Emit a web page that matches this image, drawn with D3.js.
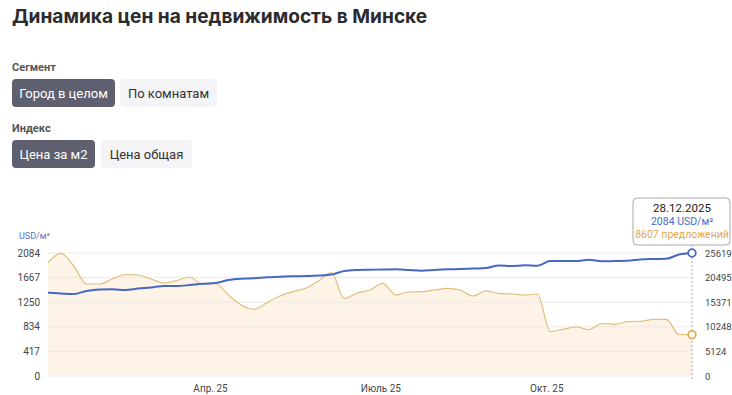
<!DOCTYPE html>
<html>
<head>
<meta charset="utf-8">
<script src="https://cdn.jsdelivr.net/npm/d3@7"></script>
<style>
  body { margin: 0; background: #fff; }
  svg { display: block; font-family: Roboto, "Noto Sans", sans-serif; }
</style>
</head>
<body>
<script>
// weekly dates: first and last sunday of the series
var firstWeek = "2025-01-12";
var lastWeek = "2025-12-28";

// USD per m2, left axis
var priceM2 = [1411, 1398, 1389, 1440, 1465, 1469, 1457, 1482, 1499, 1525,
  1525, 1541, 1562, 1575, 1626, 1648, 1655, 1672, 1680, 1689,
  1694, 1702, 1719, 1779, 1796, 1801, 1804, 1807, 1796, 1784,
  1796, 1807, 1813, 1821, 1829, 1872, 1863, 1875, 1868, 1948,
  1948, 1948, 1968, 1943, 1948, 1953, 1974, 1982, 1987, 2058, 2084];

// number of offers, right axis
var offers = [23600, 25560, 22910, 19160, 19160, 20200, 21140, 21040, 20200, 19370,
  19890, 20620, 19100, 19270, 16870, 14790, 13890, 15270, 16660, 17560,
  18270, 19790, 21560, 16140, 17290, 17910, 19310, 16870, 17500, 17560,
  17910, 18270, 17910, 16660, 17710, 17190, 17080, 16870, 17080, 9230,
  9730, 10210, 9690, 10940, 10770, 11310, 11390, 11810, 11810, 8640, 8607];

var leftTicks = [0, 417, 834, 1250, 1667, 2084];
var rightTicks = [0, 5124, 10248, 15371, 20495, 25619];
var monthTicks = ["2025-04-01", "2025-07-01", "2025-10-01"];
var monthLabels = ["Апр. 25", "Июль 25", "Окт. 25"];

var width = 732, height = 395;
var parse = d3.timeParse("%Y-%m-%d");
var dates = d3.timeSunday.range(parse(firstWeek), d3.timeDay.offset(parse(lastWeek), 1));

var svg = d3.select("body").append("svg")
    .attr("width", width)
    .attr("height", height);

// header
svg.append("text")
    .attr("x", 12).attr("y", 23)
    .attr("fill", "#2b2b2e")
    .style("font-family", "Inter, 'Open Sans', sans-serif")
    .style("font-size", "19.1px")
    .style("font-weight", 700)
    .text("Динамика цен на недвижимость в Минске");

function groupLabel(txt, y) {
  svg.append("text")
      .attr("x", 12).attr("y", y)
      .attr("fill", "#555")
      .style("font-size", "11px")
      .style("font-weight", 700)
      .text(txt);
}

function button(txt, x, y, w, active) {
  var g = svg.append("g").attr("transform", "translate(" + x + "," + y + ")");
  g.append("rect")
      .attr("width", w).attr("height", 28)
      .attr("rx", 4)
      .attr("fill", active ? "#5e606f" : "#f4f4f7");
  g.append("text")
      .attr("x", w / 2).attr("y", 18.5)
      .attr("text-anchor", "middle")
      .attr("fill", active ? "#fff" : "#333")
      .style("font-size", "13px")
      .text(txt);
}

groupLabel("Сегмент", 71);
button("Город в целом", 12, 79, 103, true);
button("По комнатам", 120, 79, 97, false);
groupLabel("Индекс", 132);
button("Цена за м2", 12, 140, 83, true);
button("Цена общая", 101, 140, 91, false);

// chart
var x = d3.scaleTime()
    .domain([dates[0], dates[dates.length - 1]])
    .range([48, 692]);
var yL = d3.scaleLinear().domain([0, 2084]).range([376, 253]);
var yR = d3.scaleLinear().domain([0, 25619]).range([376, 253]);

var area = d3.area()
    .x(function(d, i) { return x(dates[i]); })
    .y0(yR(0))
    .y1(function(d) { return yR(d); })
    .curve(d3.curveMonotoneX);

svg.append("path")
    .datum(offers)
    .attr("d", area)
    .attr("fill", "#fdf3e6");

// grid
svg.append("g").selectAll("line")
    .data(leftTicks)
    .enter().append("line")
      .attr("x1", 48).attr("x2", 692)
      .attr("y1", function(d) { return yL(d); })
      .attr("y2", function(d) { return yL(d); })
      .attr("stroke", "#efe9e4")
      .attr("stroke-width", 1);

var lineOffers = d3.line()
    .x(function(d, i) { return x(dates[i]); })
    .y(function(d) { return yR(d); })
    .curve(d3.curveMonotoneX);

svg.append("path")
    .datum(offers)
    .attr("d", lineOffers)
    .attr("fill", "none")
    .attr("stroke", "#e2bc7c")
    .attr("stroke-width", 1.2);

var linePrice = d3.line()
    .x(function(d, i) { return x(dates[i]); })
    .y(function(d) { return yL(d); })
    .curve(d3.curveMonotoneX);

svg.append("path")
    .datum(priceM2)
    .attr("d", linePrice)
    .attr("fill", "none")
    .attr("stroke", "#4668c4")
    .attr("stroke-width", 2);

// left axis
svg.append("text")
    .attr("x", 19).attr("y", 239)
    .attr("fill", "#5a72c8")
    .style("font-size", "9px")
    .text("USD/м²");

svg.append("g").selectAll("text")
    .data(leftTicks)
    .enter().append("text")
      .attr("x", 40)
      .attr("y", function(d) { return yL(d) + 3.5; })
      .attr("text-anchor", "end")
      .attr("fill", "#444")
      .style("font-size", "10px")
      .text(function(d) { return d; });

svg.append("g").selectAll("text")
    .data(rightTicks)
    .enter().append("text")
      .attr("x", 705)
      .attr("y", function(d) { return yR(d) + 3.5; })
      .attr("fill", "#444")
      .style("font-size", "9.5px")
      .text(function(d) { return d; });

svg.append("g").selectAll("text")
    .data(monthTicks)
    .enter().append("text")
      .attr("x", function(d) { return x(parse(d)); })
      .attr("y", 392)
      .attr("fill", "#444")
      .style("font-size", "10px")
      .text(function(d, i) { return monthLabels[i]; });

// hover state on the last week
var last = dates.length - 1;
var hx = x(dates[last]);

svg.append("line")
    .attr("x1", hx).attr("x2", hx)
    .attr("y1", 245).attr("y2", 380)
    .attr("stroke", "#aab")
    .attr("stroke-dasharray", "2,2");

svg.append("circle")
    .attr("cx", hx).attr("cy", yL(priceM2[last]))
    .attr("r", 3.8)
    .attr("fill", "#fff")
    .attr("stroke", "#4668c4")
    .attr("stroke-width", 1.8);

svg.append("circle")
    .attr("cx", hx).attr("cy", yR(offers[last]))
    .attr("r", 3.8)
    .attr("fill", "#fff")
    .attr("stroke", "#e3ab52")
    .attr("stroke-width", 1.8);

var tip = svg.append("g").attr("transform", "translate(633,198)");
tip.append("rect")
    .attr("width", 97).attr("height", 47)
    .attr("rx", 4)
    .attr("fill", "#fff")
    .attr("stroke", "#aaa");
var fmt = d3.timeFormat("%d.%m.%Y");
tip.append("text")
    .attr("x", 49).attr("y", 14)
    .attr("text-anchor", "middle")
    .attr("fill", "#222")
    .style("font-size", "11.5px")
    .text(fmt(dates[last]));
tip.append("text")
    .attr("x", 49).attr("y", 27)
    .attr("text-anchor", "middle")
    .attr("fill", "#4a6cc8")
    .style("font-size", "10.5px")
    .text(priceM2[last] + " USD/м²");
tip.append("text")
    .attr("x", 49).attr("y", 39.5)
    .attr("text-anchor", "middle")
    .attr("fill", "#e2a64a")
    .style("font-size", "10.5px")
    .text(offers[last] + " предложений");
</script>
</body>
</html>
